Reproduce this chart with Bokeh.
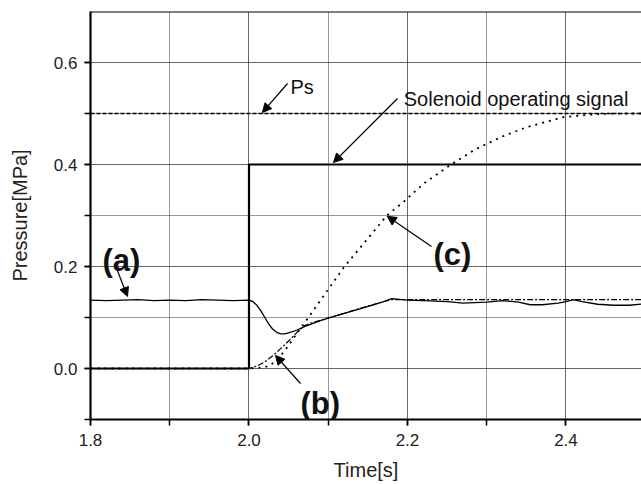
from bokeh.plotting import figure
from bokeh.models import Range1d, SingleIntervalTicker, PrintfTickFormatter, Label, Arrow, NormalHead, Span
from bokeh.embed import file_html
from bokeh.resources import INLINE

# ---- data ----
sol_t = [1.8, 2.0, 2.0, 2.5]
sol_p = [0.0, 0.0, 0.4, 0.4]

ps_t = [1.8, 2.5]
ps_p = [0.5, 0.5]

t_a = [1.80, 1.82, 1.84, 1.86, 1.88, 1.90, 1.92, 1.94, 1.96, 1.98, 2.000, 2.005, 2.010, 2.015, 2.020,
       2.025, 2.030, 2.035, 2.040, 2.045, 2.050, 2.060, 2.070, 2.080, 2.090, 2.100, 2.120,
       2.140, 2.160, 2.170, 2.180, 2.200, 2.220, 2.250, 2.270, 2.300, 2.320, 2.340, 2.355,
       2.370, 2.390, 2.400, 2.410, 2.420, 2.440, 2.460, 2.480, 2.500]
p_a = [0.134, 0.133, 0.134, 0.135, 0.133, 0.134, 0.133, 0.135, 0.134, 0.133, 0.134, 0.131, 0.124, 0.113, 0.100,
       0.087, 0.077, 0.071, 0.068, 0.068, 0.070, 0.075, 0.082, 0.088, 0.094, 0.099, 0.108,
       0.117, 0.126, 0.131, 0.137, 0.134, 0.133, 0.131, 0.128, 0.130, 0.133, 0.130, 0.125,
       0.125, 0.128, 0.131, 0.135, 0.131, 0.126, 0.124, 0.124, 0.127]

t_b = [1.8, 2.0, 2.01, 2.02, 2.03, 2.04, 2.05, 2.06, 2.07, 2.08, 2.10, 2.12, 2.14, 2.16, 2.18, 2.30, 2.50]
p_b = [0.0, 0.0, 0.005, 0.013, 0.025, 0.039, 0.054, 0.070, 0.084, 0.090, 0.099, 0.108, 0.118, 0.127, 0.135, 0.135, 0.135]

t_c = [1.8, 2.0, 2.01, 2.02, 2.027, 2.04, 2.05, 2.06, 2.075, 2.099, 2.12, 2.15, 2.174, 2.196,
       2.22, 2.254, 2.286, 2.32, 2.35, 2.397, 2.44, 2.47, 2.5]
p_c = [0.0, 0.0, 0.001, 0.003, 0.006, 0.025, 0.045, 0.068, 0.100, 0.153, 0.199, 0.255, 0.300, 0.328,
       0.362, 0.399, 0.430, 0.455, 0.473, 0.493, 0.499, 0.500, 0.500]

x_ticks_interval = 0.2
y_ticks_interval = 0.2

FONT = "Liberation Sans"

p = figure(width=641, height=484, output_backend="svg", toolbar_location=None,
           x_range=Range1d(1.8, 2.4953), y_range=Range1d(-0.1, 0.7),
           min_border_left=90, min_border_right=0, min_border_top=11, min_border_bottom=65)
p.outline_line_color = None
p.background_fill_color = "white"
p.border_fill_color = "white"

for ax, iv in ((p.xaxis[0], x_ticks_interval), (p.yaxis[0], y_ticks_interval)):
    ax.ticker = SingleIntervalTicker(interval=iv, num_minor_ticks=2)
    ax.formatter = PrintfTickFormatter(format="%.1f")
    ax.axis_line_width = 2.2
    ax.axis_line_color = "black"
    ax.major_tick_in = 0
    ax.major_tick_out = 6
    ax.minor_tick_in = 0
    ax.minor_tick_out = 6
    ax.major_tick_line_width = 1.5
    ax.minor_tick_line_width = 1.5
    ax.major_tick_line_color = "black"
    ax.minor_tick_line_color = "black"
    ax.major_label_text_font = FONT
    ax.major_label_text_font_size = "17px"
    ax.major_label_text_color = "#222222"
    ax.axis_label_text_font = FONT
    ax.axis_label_text_font_size = "20px"
    ax.axis_label_text_font_style = "normal"
    ax.axis_label_text_color = "#222222"

p.xaxis.axis_label = "Time[s]"
p.yaxis.axis_label = "Pressure[MPa]"
p.xaxis.major_label_standoff = 8
p.yaxis.major_label_standoff = 7
p.xaxis.axis_label_standoff = 10
p.yaxis.axis_label_standoff = 20

for g in (p.xgrid[0], p.ygrid[0]):
    g.grid_line_color = "#333333"
    g.grid_line_dash = "1 1"
    g.grid_line_width = 1
    g.minor_grid_line_color = "#333333"
    g.minor_grid_line_dash = "1 1"
    g.minor_grid_line_width = 1

p.add_layout(Span(location=0.7, dimension="width", line_color="black", line_width=2.2))

p.line(ps_t, ps_p, line_color="black", line_width=1.4, line_dash="4 2")
p.line(t_c, p_c, line_color="black", line_width=1.8, line_dash="2 5")
p.line(t_b, p_b, line_color="black", line_width=1.2, line_dash="6 2 2 2")
p.line(t_a, p_a, line_color="black", line_width=1.3)
p.line(sol_t, sol_p, line_color="black", line_width=2.2)

def lab(x, y, t, size, bold=False):
    p.add_layout(Label(x=x, y=y, text=t, text_font=FONT, text_font_size=size,
                       text_font_style="bold" if bold else "normal", text_color="#111111",
                       text_align="left", text_baseline="alphabetic"))

lab(2.0524, 0.551, "Ps", "20px")
lab(2.1953, 0.5275, "Solenoid operating signal", "20px")
lab(2.2328, 0.2235, "(c)", "31px", True)
lab(1.8151, 0.2118, "(a)", "31px", True)
lab(2.065, -0.0686, "(b)", "31px", True)

def arr(x0, y0, x1, y1):
    p.add_layout(Arrow(x_start=x0, y_start=y0, x_end=x1, y_end=y1, line_width=1.2, line_color="black",
                       end=NormalHead(size=9, fill_color="black", line_color="black", line_width=1)))

arr(2.0486, 0.5588, 2.0170, 0.502)
arr(2.1874, 0.5294, 2.1066, 0.4039)
arr(2.2303, 0.2392, 2.1744, 0.2986)
arr(1.8315, 0.202, 1.8467, 0.1412)
arr(2.065, -0.0294, 2.0334, 0.0255)

open("out.html", "w").write(file_html(p, INLINE))
